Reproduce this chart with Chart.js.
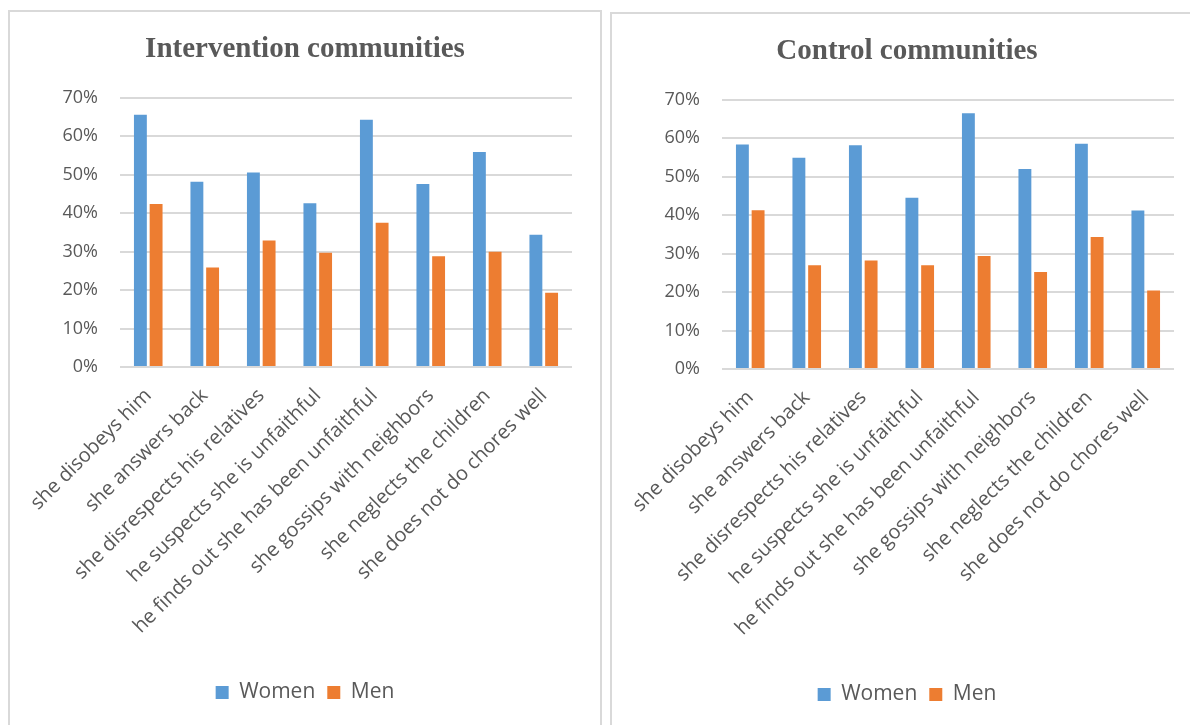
<!DOCTYPE html>
<html>
<head>
<meta charset="utf-8">
<script src="https://cdn.jsdelivr.net/npm/chart.js@4.4.1/dist/chart.umd.min.js"></script>
<style>
    html, body { margin: 0; padding: 0; background: #fff; overflow: hidden; }
    body { width: 1190px; height: 725px; position: relative; }
    .panel {
        position: absolute;
        box-sizing: border-box;
        width: 594px;
        height: 740px;
        border: 2px solid #d9d9d9;
        background: #fff;
    }
    #panelLeft { left: 8px; top: 10px; }
    #panelRight { left: 610px; top: 12px; }
    .panel canvas { position: absolute; left: 0; top: 0; }
</style>
</head>
<body>
<div class="panel" id="panelLeft"><canvas id="interventionChart" width="590" height="713"></canvas></div>
<div class="panel" id="panelRight"><canvas id="controlChart" width="590" height="713"></canvas></div>
<script>
const categories = [
    'she disobeys him',
    'she answers back',
    'she disrespects his relatives',
    'he suspects she is unfaithful',
    'he finds out she has been unfaithful',
    'she gossips with neighbors',
    'she neglects the children',
    'she does not do chores well'
];

// percent of respondents
const interventionWomen = [65.6, 48.2, 50.6, 42.6, 64.3, 47.6, 55.9, 34.4];
const interventionMen = [42.4, 25.9, 32.9, 29.7, 37.5, 28.8, 30.0, 19.3];
const controlWomen = [58.4, 54.9, 58.2, 44.5, 66.5, 52.0, 58.6, 41.2];
const controlMen = [41.3, 27.0, 28.2, 27.0, 29.4, 25.2, 34.3, 20.4];

const yTicks = [0, 10, 20, 30, 40, 50, 60, 70];

const TEXT_COLOR = '#595959';
const GRID_COLOR = '#d9d9d9';
const BLUE = '#5b9bd5';
const ORANGE = '#ed7d31';
const SANS = "'Open Sans', 'Noto Sans', sans-serif";

function makeChart(canvasId, title, women, men) {
    const ctx = document.getElementById(canvasId).getContext('2d');
    return new Chart(ctx, {
        type: 'bar',
        data: {
            labels: categories,
            datasets: [
                {
                    label: 'Women',
                    data: women,
                    backgroundColor: BLUE,
                    categoryPercentage: 0.556,
                    barPercentage: 0.82
                },
                {
                    label: 'Men',
                    data: men,
                    backgroundColor: ORANGE,
                    categoryPercentage: 0.556,
                    barPercentage: 0.82
                }
            ]
        },
        options: {
            responsive: false,
            animation: false,
            layout: { padding: { left: 0, right: 0, top: 0, bottom: 12 } },
            plugins: {
                title: {
                    display: true,
                    text: title,
                    color: TEXT_COLOR,
                    font: { family: "'Liberation Serif', serif", size: 29, weight: 'bold' },
                    padding: { top: 20, bottom: 31 }
                },
                legend: {
                    position: 'bottom',
                    labels: {
                        color: TEXT_COLOR,
                        font: { family: SANS, size: 21 },
                        boxWidth: 13,
                        boxHeight: 13,
                        padding: 12
                    }
                },
                tooltip: { enabled: false }
            },
            scales: {
                x: {
                    grid: { display: false, drawTicks: false },
                    border: { display: false },
                    ticks: {
                        color: TEXT_COLOR,
                        font: { family: SANS, size: 20 },
                        minRotation: 45,
                        maxRotation: 45,
                        autoSkip: false,
                        padding: 17
                    },
                    afterFit: scale => { scale.height = 303; }
                },
                y: {
                    min: 0,
                    max: 70,
                    afterBuildTicks: scale => {
                        scale.ticks = yTicks.map(v => ({ value: v }));
                    },
                    ticks: {
                        color: TEXT_COLOR,
                        font: { family: SANS, size: 18 },
                        padding: 22,
                        callback: v => v + '%'
                    },
                    grid: { color: GRID_COLOR, lineWidth: 2, drawTicks: false },
                    border: { display: false },
                    afterFit: scale => { scale.width = 110; }
                },
                // empty strip on the right so title and legend stay centred on the panel
                yRight: {
                    position: 'right',
                    display: true,
                    grid: { display: false, drawTicks: false },
                    border: { display: false },
                    ticks: { display: false },
                    afterFit: scale => { scale.width = 28; }
                }
            }
        }
    });
}

makeChart('interventionChart', 'Intervention communities', interventionWomen, interventionMen);
makeChart('controlChart', 'Control communities', controlWomen, controlMen);
</script>
</body>
</html>
